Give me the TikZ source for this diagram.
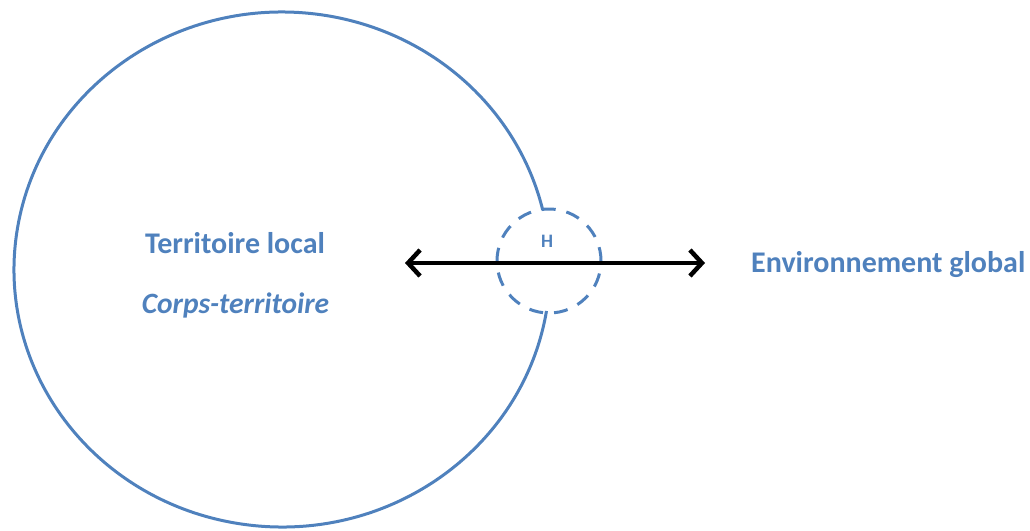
\documentclass[tikz,border=0pt]{standalone}
\usepackage{fontspec}
\setmainfont{Carlito}
\usetikzlibrary{arrows.meta}
\definecolor{ablue}{RGB}{79,129,189}
\begin{document}
\begin{tikzpicture}[x=1pt,y=-1pt,
  lbl/.style={text=ablue,font=\bfseries\fontsize{30}{34}\selectfont,inner sep=0pt,anchor=base},
  ring/.style={draw=ablue,line width=3pt},
  hubstyle/.style={circle,draw=ablue,line width=3pt,dash pattern=on 14pt off 11pt,minimum size=104pt,inner sep=0pt},
  link/.style={line width=4.5pt,{Straight Barb[length=12pt,width=26pt]}-{Straight Barb[length=12pt,width=26pt]}}]
\useasboundingbox (0,0) rectangle (1030,530);
\draw[ring] (282,269.5) ++(9.27:268 and 257.5) arc[start angle=9.27,end angle=346.64,x radius=268,y radius=257.5];
\node[hubstyle] (hub) at (549,261) {};
\node[text=ablue,font=\bfseries\fontsize{19}{22}\selectfont,inner sep=0pt,anchor=base] (h) at (547,247) {H};
\coordinate (L) at (405,263);
\coordinate (R) at (705,263);
\draw[link] (L) -- (R);
\node[lbl] (tl) at (235,253) {Territoire local};
\node[lbl,font=\bfseries\itshape\fontsize{29.5}{34}\selectfont] (ct) at (235.5,313) {Corps-territoire};
\node[lbl,anchor=base west] (eg) at (751,272) {Environnement global};
\end{tikzpicture}
\end{document}
